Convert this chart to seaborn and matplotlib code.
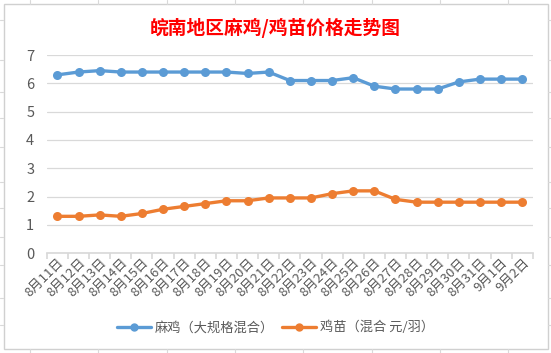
import pandas as pd
import matplotlib.pyplot as plt
import seaborn as sns
from matplotlib.lines import Line2D
from matplotlib.patches import Rectangle

# --- DATA ---
dates = ['8月11日', '8月12日', '8月13日', '8月14日', '8月15日', '8月16日', '8月17日',
         '8月18日', '8月19日', '8月20日', '8月21日', '8月22日', '8月23日', '8月24日',
         '8月25日', '8月26日', '8月27日', '8月28日', '8月29日', '8月30日', '8月31日',
         '9月1日', '9月2日']
chicken = [6.3, 6.4, 6.45, 6.4, 6.4, 6.4, 6.4, 6.4, 6.4, 6.35, 6.4, 6.1,
           6.1, 6.1, 6.2, 5.9, 5.8, 5.8, 5.8, 6.05, 6.15, 6.15, 6.15]
chick = [1.3, 1.3, 1.35, 1.3, 1.4, 1.55, 1.65, 1.75, 1.85, 1.85, 1.95, 1.95,
         1.95, 2.1, 2.2, 2.2, 1.9, 1.8, 1.8, 1.8, 1.8, 1.8, 1.8]
series_names = ['麻鸡（大规格混合）', '鸡苗（混合 元/羽）']
colors = ['#5B9BD5', '#ED7D31']

sns.set_theme(style="white")
plt.rcParams['font.family'] = ['Noto Sans CJK SC', 'DejaVu Sans']

df = pd.DataFrame({'date': dates * 2,
                   'price': chicken + chick,
                   'series': [series_names[0]] * len(dates) + [series_names[1]] * len(dates)})
df['x'] = list(range(len(dates))) * 2

fig = plt.figure(figsize=(5.51, 3.53), dpi=100)
ax = fig.add_axes([0.085, 0.283, 0.882, 0.561])

sns.lineplot(data=df, x='x', y='price', hue='series', palette=colors,
             marker='o', markersize=6.5, markeredgewidth=0, linewidth=2.4,
             legend=False, ax=ax)

ax.set_xlim(-0.5, len(dates) - 0.5)
ax.set_ylim(0, 7)
ax.set_yticks(range(0, 8))
ax.grid(axis='y', color='#d9d9d9', linewidth=0.9)
ax.set_axisbelow(True)
for s in ['top', 'right', 'left']:
    ax.spines[s].set_visible(False)
ax.spines['bottom'].set_color('#d9d9d9')
ax.set_xlabel('')
ax.set_ylabel('')

# category-boundary ticks, labels centred on categories
ax.set_xticks([i - 0.5 for i in range(len(dates) + 1)], minor=False)
ax.set_xticklabels([])
ax.tick_params(axis='x', which='major', length=4, color='#d9d9d9', bottom=True)
ax.set_xticks(range(len(dates)), minor=True)
ax.set_xticklabels(dates, minor=True, rotation=45, ha='right', rotation_mode='anchor',
                   fontsize=9.5, color='#595959')
ax.tick_params(axis='x', which='minor', length=0, pad=2)
ax.tick_params(axis='y', length=0, labelsize=10.5, labelcolor='#595959', pad=9)

fig.suptitle('皖南地区麻鸡/鸡苗价格走势图', x=0.5, y=0.95, color='#FF0000',
             fontsize=13.5, fontweight='bold')

handles = [Line2D([0], [0], color=c, marker='o', markersize=5, linewidth=2.4) for c in colors]
fig.legend(handles, series_names, loc='center', bbox_to_anchor=(0.5, 0.072), ncol=2,
           frameon=False, fontsize=9.5, handlelength=2.6, columnspacing=0.6,
           handletextpad=0.3, labelcolor='#595959')

# chart border and spreadsheet cell lines around it
fig.patches.append(Rectangle((4 / 551, 4 / 353), 544 / 551, 345 / 353, transform=fig.transFigure,
                             fill=False, edgecolor='#d0d0d0', linewidth=1))
for xp in [30, 98, 167, 235, 303, 372, 440, 508]:
    fig.add_artist(Line2D([xp / 551, xp / 551], [1 - 4 / 353, 1], color='#d9d9d9',
                          linewidth=0.8, transform=fig.transFigure))
    fig.add_artist(Line2D([xp / 551, xp / 551], [0, 1 - 349 / 353], color='#d9d9d9',
                          linewidth=0.8, transform=fig.transFigure))
for yp in [20, 60, 92, 118, 147, 182, 208, 237, 265, 298, 325]:
    fig.add_artist(Line2D([0, 3 / 551], [1 - yp / 353] * 2, color='#d9d9d9',
                          linewidth=0.8, transform=fig.transFigure))
    fig.add_artist(Line2D([548 / 551, 1], [1 - yp / 353] * 2, color='#d9d9d9',
                          linewidth=0.8, transform=fig.transFigure))

fig.savefig('out.png', dpi=100)
